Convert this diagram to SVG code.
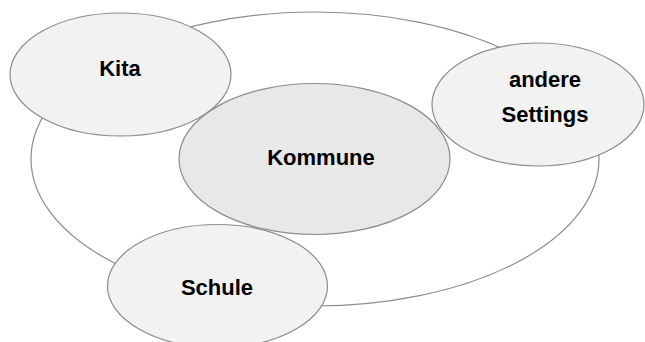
<svg xmlns="http://www.w3.org/2000/svg" width="645" height="342" viewBox="0 0 645 342">
  <style>
    .frame { fill: #ffffff; stroke: #8c8c8c; stroke-width: 1.2; }
    .node { fill: #f2f2f2; stroke: #8c8c8c; stroke-width: 1.2; }
    .center { fill: #e8e8e8; stroke: #8c8c8c; stroke-width: 1.2; }
    .label { font-family: "Liberation Sans", Arial, sans-serif; font-weight: bold; font-size: 22px; fill: #000000; text-anchor: middle; }
  </style>
  <g id="umfeld">
    <ellipse class="frame" cx="315" cy="159" rx="284" ry="147"/>
  </g>
  <g id="kommune">
    <ellipse class="center" cx="314.5" cy="159" rx="135.5" ry="75.5"/>
    <text class="label" x="321" y="165">Kommune</text>
  </g>
  <g id="kita">
    <ellipse class="node" cx="120.5" cy="74.5" rx="110.5" ry="61.5"/>
    <text class="label" x="120" y="76">Kita</text>
  </g>
  <g id="andere-settings">
    <ellipse class="node" cx="538" cy="104.5" rx="106" ry="61.5"/>
    <text class="label" x="545" y="87">andere</text>
    <text class="label" x="545" y="122">Settings</text>
  </g>
  <g id="schule">
    <ellipse class="node" cx="217.5" cy="286" rx="110" ry="61.5"/>
    <text class="label" x="217" y="295">Schule</text>
  </g>
  <g id="connectors"></g>
</svg>
